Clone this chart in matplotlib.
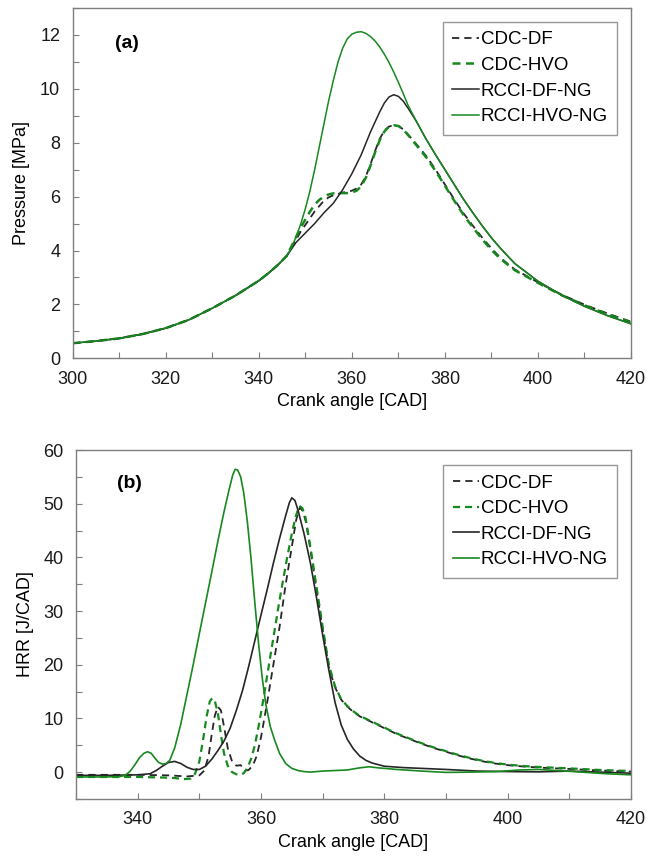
import matplotlib
matplotlib.use('Agg')
import matplotlib.pyplot as plt
from matplotlib.ticker import MultipleLocator

plt.rcParams['font.family'] = ['Liberation Sans', 'DejaVu Sans']

# ---------- (a) pressure ----------
# motored part shared by all four cases
ca_common = [300, 305, 310, 315, 320, 325, 330, 335, 340, 342, 344, 346]
p_common = [0.56, 0.64, 0.74, 0.90, 1.12, 1.43, 1.86, 2.33, 2.88, 3.15, 3.45, 3.80]

# expansion part
ca_tail = [376, 378, 380, 382, 384, 386, 388, 390, 392, 395, 400, 405, 410, 415, 420]
p_tail_rcci = [8.12, 7.55, 7.0, 6.45, 5.9, 5.4, 4.92, 4.47, 4.07, 3.52, 2.86, 2.35, 1.93, 1.58, 1.28]
p_tail_cdc_df = [7.5, 7.0, 6.45, 5.9, 5.38, 4.92, 4.48, 4.08, 3.72, 3.3, 2.82, 2.37, 1.99, 1.66, 1.36]
p_tail_cdc_hvo = [7.45, 6.95, 6.4, 5.85, 5.32, 4.86, 4.42, 4.02, 3.68, 3.27, 2.8, 2.35, 1.97, 1.63, 1.33]

ca_rcci_hvo = [347, 348, 349, 350, 351, 352, 353, 354, 355, 356, 357, 358, 359, 360,
               361, 362, 363, 364, 365, 366, 367, 368, 369, 370, 371, 372, 373, 374]
p_rcci_hvo = [4.1, 4.5, 4.98, 5.55, 6.22, 7.0, 7.85, 8.7, 9.55, 10.3, 10.98, 11.5, 11.85, 12.03,
              12.1, 12.12, 12.06, 11.94, 11.77, 11.55, 11.28, 10.97, 10.62, 10.24, 9.84, 9.42,
              9.08, 8.75]

ca_rcci_df = [347, 348, 350, 352, 354, 356, 358, 360, 362, 364, 366, 367, 368, 369,
              370, 371, 372, 373, 374]
p_rcci_df = [4.05, 4.3, 4.65, 5.0, 5.4, 5.75, 6.25, 6.85, 7.55, 8.4, 9.15, 9.48, 9.7, 9.78,
             9.72, 9.55, 9.3, 9.03, 8.75]

ca_cdc = [347, 348, 349, 350, 351, 352, 353, 354, 355, 356, 357, 358, 359, 360,
          361, 362, 363, 364, 365, 366, 367, 368, 369, 370, 371, 372, 374]
p_cdc_df = [4.1, 4.4, 4.7, 4.95, 5.2, 5.45, 5.65, 5.85, 5.97, 6.05, 6.1, 6.15, 6.18, 6.22,
            6.3, 6.45, 6.75, 7.2, 7.7, 8.15, 8.45, 8.6, 8.65, 8.62, 8.5, 8.32, 7.92]
p_cdc_hvo = [4.15, 4.5, 4.85, 5.15, 5.45, 5.7, 5.88, 6.0, 6.08, 6.12, 6.13, 6.13, 6.13, 6.15,
             6.22, 6.38, 6.7, 7.15, 7.65, 8.1, 8.42, 8.6, 8.65, 8.62, 8.5, 8.3, 7.88]

# ---------- (b) heat release rate ----------
ca_hrr_rcci_hvo = [330, 334, 337, 338, 338.8, 339.5, 340.3, 341, 341.6, 342.2, 342.8, 343.4,
                   344, 344.6, 345.2, 346, 347, 348, 349, 350, 351, 352, 353, 354, 354.8,
                   355.4, 355.8, 356.2, 356.7, 357.2, 357.8, 358.4, 359, 359.6, 360.2, 360.8,
                   361.5, 362.2, 363, 364, 365, 366, 367, 368, 370, 372, 374, 376, 377.5,
                   379, 382, 386, 390, 394, 398, 402, 405, 408, 412, 416, 420]
hrr_rcci_hvo = [-0.9, -0.9, -0.85, -0.6, 0.2, 1.3, 2.7, 3.5, 3.8, 3.5, 2.6, 1.8,
                1.5, 1.6, 2.2, 4.5, 9.0, 14.5, 20.0, 25.8, 31.5, 37.2, 43.0, 48.5, 52.5,
                55.3, 56.4, 56.3, 55.0, 52.0, 46.5, 39.5, 31.5, 24.0, 17.5, 12.5,
                8.5, 6.0, 3.5, 1.6, 0.7, 0.3, 0.1, 0.0, 0.2, 0.3, 0.4, 0.8, 1.0,
                0.8, 0.5, 0.2, -0.05, 0.0, 0.1, 0.4, 0.5, 0.3, 0.0, -0.3, -0.5]

ca_hrr_rcci_df = [330, 335, 340, 342, 343, 344, 345, 346, 347, 348, 349, 350, 351, 352, 353,
                  354, 355, 356, 357, 358, 359, 360, 361, 362, 363, 364, 364.6, 365, 365.5,
                  366, 367, 368, 369, 370, 371, 372, 373, 374, 375, 376, 377, 378, 380, 383,
                  386, 390, 395, 400, 405, 410, 415, 420]
hrr_rcci_df = [-0.6, -0.6, -0.5, -0.3, 0.3, 1.1, 1.8, 2.0, 1.6, 0.9, 0.5, 0.5, 1.1, 2.4, 4.0,
               5.8, 8.2, 11.5, 15.2, 19.7, 24.5, 29.3, 34.0, 38.9, 43.5, 47.8, 50.2, 51.1, 50.6,
               48.8, 44.3, 39.0, 32.5, 25.5, 19.0, 13.0, 8.8, 6.1, 4.3, 3.0, 2.2, 1.7, 1.1, 0.85,
               0.7, 0.5, 0.2, 0.1, 0.05, 0.2, 0.0, -0.2]

ca_hrr_cdc_df = [330, 335, 340, 345, 348, 350, 350.8, 351.5, 352, 352.5, 353, 353.5, 354,
                 354.6, 355.3, 356, 356.7, 357.4, 358, 358.7, 359.3, 360, 361, 362, 363, 364,
                 365, 365.7, 366.3, 366.8, 367.3, 368, 369, 370, 371, 372, 373, 374, 375, 376,
                 378, 380, 382, 384, 386, 388, 390, 392, 394, 396, 398, 400, 403, 406, 410,
                 415, 420]
hrr_cdc_df = [-0.5, -0.5, -0.5, -0.6, -0.8, -0.6, 0.3, 3.0, 7.0, 10.5, 12.2, 11.5, 8.5,
              4.5, 2.0, 1.2, 1.3, 0.3, 0.4, 1.3, 3.0, 6.5, 13.0, 20.0, 27.0, 35.0,
              42.0, 47.0, 49.3, 48.6, 46.5, 41.5, 34.0, 26.5, 19.5, 15.8, 13.5, 12.2, 11.2, 10.4,
              9.3, 8.2, 7.1, 6.2, 5.3, 4.5, 3.8, 3.1, 2.5, 2.0, 1.6, 1.3, 1.0, 0.8, 0.6,
              0.3, 0.1]

ca_hrr_cdc_hvo = [330, 335, 340, 344, 346, 347.5, 348.6, 349.3, 350, 350.6, 351.2, 351.7,
                  352.1, 352.5, 353, 353.5, 354, 354.6, 355.3, 356, 356.6, 357.2, 357.8, 358.4,
                  359, 359.6, 360.3, 361, 362, 363, 364, 365, 365.6, 366.2, 366.7, 367.2, 368,
                  369, 370, 371, 372, 373, 374, 375, 376, 378, 380, 382, 384, 386, 388, 390,
                  392, 394, 396, 398, 400, 403, 406, 410, 415, 420]
hrr_cdc_hvo = [-0.9, -0.9, -0.9, -1.0, -1.1, -1.3, -1.2, -0.3, 2.0, 6.0, 10.5, 13.2,
               13.8, 13.3, 11.0, 7.0, 3.5, 1.2, 0.0, -0.4, -0.5, -0.2, 0.8, 2.5,
               5.0, 8.5, 13.0, 18.0, 25.0, 32.0, 38.5, 44.5, 47.5, 49.6, 49.2, 47.5, 42.0,
               34.5, 27.0, 20.0, 16.0, 13.6, 12.3, 11.3, 10.5, 9.4, 8.3, 7.2, 6.3, 5.4, 4.6, 3.9,
               3.2, 2.6, 2.1, 1.7, 1.4, 1.1, 0.9, 0.7, 0.4, 0.2]

labels = ['CDC-DF', 'CDC-HVO', 'RCCI-DF-NG', 'RCCI-HVO-NG']

GREEN = '#17891f'
BLACK = '#262626'
SPINE = '#7f7f7f'
FS = 13

fig = plt.figure(figsize=(6.47, 8.57), dpi=100)
ax1 = fig.add_axes([0.1124, 0.5819, 0.8629, 0.4088])
ax2 = fig.add_axes([0.1175, 0.0677, 0.8578, 0.4072])

# panel (a)
ax1.plot(ca_common + ca_cdc + ca_tail, p_common + p_cdc_df + p_tail_cdc_df,
         color=BLACK, lw=1.3, dashes=(4, 2.8), label=labels[0])
ax1.plot(ca_common + ca_cdc + ca_tail, p_common + p_cdc_hvo + p_tail_cdc_hvo,
         color=GREEN, lw=1.8, dashes=(3.2, 2.2), label=labels[1])
ax1.plot(ca_common + ca_rcci_df + ca_tail, p_common + p_rcci_df + p_tail_rcci,
         color=BLACK, lw=1.1, label=labels[2])
ax1.plot(ca_common + ca_rcci_hvo + ca_tail, p_common + p_rcci_hvo + p_tail_rcci,
         color=GREEN, lw=1.1, label=labels[3])
ax1.set_xlim(300, 420)
ax1.set_ylim(0, 13)
ax1.xaxis.set_major_locator(MultipleLocator(20))
ax1.xaxis.set_minor_locator(MultipleLocator(10))
ax1.yaxis.set_major_locator(MultipleLocator(2))
ax1.yaxis.set_minor_locator(MultipleLocator(1))
ax1.set_ylabel('Pressure [MPa]', fontsize=FS, labelpad=7)
ax1.set_xlabel('Crank angle [CAD]', fontsize=FS, labelpad=4)
ax1.text(0.097, 0.90, '(a)', transform=ax1.transAxes, fontsize=14,
         fontweight='bold', ha='center', va='center')
ax1.legend(loc='upper right', bbox_to_anchor=(0.975, 0.96), borderaxespad=0,
           fontsize=13.5, frameon=True, fancybox=False, edgecolor=SPINE,
           handlelength=1.4, handletextpad=0.1, labelspacing=0.45, borderpad=0.5)

# panel (b)
ax2.plot(ca_hrr_cdc_df, hrr_cdc_df, color=BLACK, lw=1.3, dashes=(4, 2.8), label=labels[0])
ax2.plot(ca_hrr_cdc_hvo, hrr_cdc_hvo, color=GREEN, lw=1.6, dashes=(3.2, 2.2), label=labels[1])
ax2.plot(ca_hrr_rcci_df, hrr_rcci_df, color=BLACK, lw=1.2, label=labels[2])
ax2.plot(ca_hrr_rcci_hvo, hrr_rcci_hvo, color=GREEN, lw=1.2, label=labels[3])
ax2.set_xlim(330, 420)
ax2.set_ylim(-5, 60)
ax2.xaxis.set_major_locator(MultipleLocator(20))
ax2.xaxis.set_minor_locator(MultipleLocator(10))
ax2.set_yticks([0, 10, 20, 30, 40, 50, 60])
ax2.yaxis.set_minor_locator(MultipleLocator(5))
ax2.set_ylabel('HRR [J/CAD]', fontsize=FS, labelpad=7)
ax2.set_xlabel('Crank angle [CAD]', fontsize=FS, labelpad=4)
ax2.text(0.097, 0.905, '(b)', transform=ax2.transAxes, fontsize=14,
         fontweight='bold', ha='center', va='center')
ax2.legend(loc='upper right', bbox_to_anchor=(0.975, 0.957), borderaxespad=0,
           fontsize=13.5, frameon=True, fancybox=False, edgecolor=SPINE,
           handlelength=1.4, handletextpad=0.1, labelspacing=0.45, borderpad=0.5)

for ax in (ax1, ax2):
    for s in ax.spines.values():
        s.set_color(SPINE)
        s.set_linewidth(1.0)
    ax.tick_params(which='both', direction='in', length=4, width=0.8,
                   color=SPINE, labelsize=FS, labelcolor='#1a1a1a', pad=9)
    ax.get_legend().get_frame().set_linewidth(1.0)

fig.savefig('out.png', dpi=100)
